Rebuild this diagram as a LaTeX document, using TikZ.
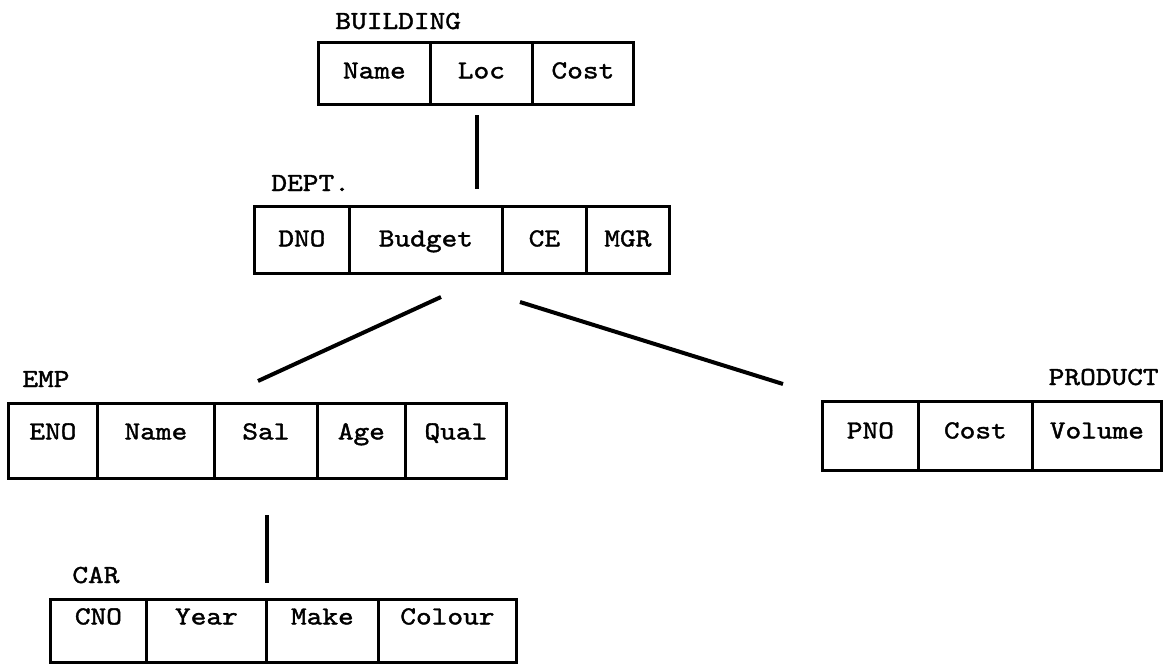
\documentclass[tikz,border=0pt]{standalone}
\usepackage{fontspec}
% typewriter face, widened and thickened a little
\newfontfamily\typer{lmmono10-regular}[Extension=.otf, FakeStretch=1.15, FakeBold=1.5]
\newcommand\typeface{\typer\fontsize{13}{15}\selectfont}
\begin{document}
\begin{tikzpicture}[x=0.5pt,y=-0.5pt,
  cell/.style={draw, line width=1.4pt, anchor=north west, inner xsep=0pt, inner ysep=0pt,
    font=\typeface},
  title/.style={anchor=base west, inner sep=0pt, font=\typeface},
  link/.style={line width=2pt}]
\useasboundingbox (0,0) rectangle (1173,664);

% BUILDING record
\node[title] (tb) at (335,29) {BUILDING};
\begin{scope}[every node/.append style={text height=18pt, text depth=13pt}]
  \node[cell, minimum width=56pt]   (b1) at (317,41) {Name};
  \node[cell, minimum width=51pt]   (b2) at (429,41) {Loc};
  \node[cell, minimum width=50.5pt] (b3) at (531,41) {Cost};
\end{scope}

% DEPT. record
\node[title] (td) at (271,191) {DEPT.};
\begin{scope}[every node/.append style={text height=20pt, text depth=13.5pt}]
  \node[cell, minimum width=47.5pt] (d1) at (253,205) {DNO};
  \node[cell, minimum width=76.5pt] (d2) at (348,205) {Budget};
  \node[cell, minimum width=42pt]   (d3) at (501,205) {CE};
  \node[cell, minimum width=41.5pt] (d4) at (585,205) {MGR};
\end{scope}

% EMP record
\node[title] (te) at (22,387) {EMP};
\begin{scope}[every node/.append style={text height=18pt, text depth=19.5pt}]
  \node[cell, minimum width=44.5pt] (e1) at (7,402)   {ENO};
  \node[cell, minimum width=58.5pt] (e2) at (96,402)  {Name};
  \node[cell, minimum width=51.5pt] (e3) at (213,402) {Sal};
  \node[cell, minimum width=44pt]   (e4) at (316,402) {Age};
  \node[cell, minimum width=50.5pt] (e5) at (404,402) {Qual};
\end{scope}

% PRODUCT record
\node[title, anchor=base east] (tp) at (1159,385) {PRODUCT};
\begin{scope}[every node/.append style={text height=18.5pt, text depth=16pt}]
  \node[cell, minimum width=48pt]   (p1) at (821,400)  {PNO};
  \node[cell, minimum width=57pt]   (p2) at (917,400)  {Cost};
  \node[cell, minimum width=64.5pt] (p3) at (1031,400) {Volume};
\end{scope}

% CAR record
\node[title] (tc) at (72,583) {CAR};
\begin{scope}[every node/.append style={text height=12.5pt, text depth=19pt}]
  \node[cell, minimum width=48pt] (c1) at (49,598)  {CNO};
  \node[cell, minimum width=60pt] (c2) at (145,598) {Year};
  \node[cell, minimum width=56pt] (c3) at (265,598) {Make};
  \node[cell, minimum width=69pt] (c4) at (377,598) {Colour};
\end{scope}

% free ends of the links between records
\coordinate (bdA) at (477,115);
\coordinate (bdB) at (477,189);
\coordinate (deA) at (441,297);
\coordinate (deB) at (258,381);
\coordinate (dpA) at (520,302);
\coordinate (dpB) at (783,384);
\coordinate (ecA) at (267,515);
\coordinate (ecB) at (267,583);

\draw[link] (bdA) -- (bdB);
\draw[link] (deA) -- (deB);
\draw[link] (dpA) -- (dpB);
\draw[link] (ecA) -- (ecB);
\end{tikzpicture}
\end{document}
